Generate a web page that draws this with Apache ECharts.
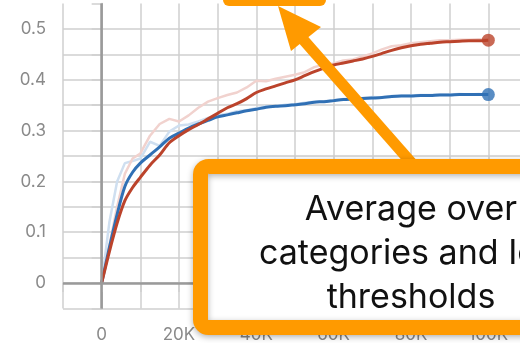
<!DOCTYPE html>
<html>
<head>
<meta charset="utf-8">
<script src="https://cdn.jsdelivr.net/npm/echarts@6/dist/echarts.min.js"></script>
<style>
  html, body { margin: 0; padding: 0; background: #fff; }
  #chart { width: 520px; height: 343px; }
</style>
</head>
<body>
<div id="chart"></div>
<script>
// Training steps shared by every curve
const steps = [0, 2000, 4000, 6000, 8000, 10000, 12500, 15000, 17500, 20000,
  22500, 25000, 27500, 30000, 32500, 35000, 37500, 40000, 42500, 45000,
  47500, 50000, 52500, 55000, 57500, 60000, 62500, 65000, 67500, 70000,
  72500, 75000, 77500, 80000, 82500, 85000, 87500, 90000, 92500, 95000,
  97500, 100000];

// Smoothed curves
const blueSmooth = [0, 0.07, 0.135, 0.19, 0.218, 0.236, 0.252, 0.268, 0.285, 0.295,
  0.305, 0.313, 0.32, 0.327, 0.331, 0.335, 0.339, 0.342, 0.346, 0.348,
  0.349, 0.351, 0.353, 0.356, 0.357, 0.359, 0.361, 0.362, 0.363, 0.364,
  0.365, 0.367, 0.368, 0.368, 0.369, 0.369, 0.37, 0.37, 0.371, 0.371,
  0.371, 0.371];
const redSmooth = [0, 0.062, 0.118, 0.162, 0.188, 0.208, 0.232, 0.252, 0.276, 0.29,
  0.302, 0.312, 0.323, 0.334, 0.345, 0.353, 0.363, 0.375, 0.382, 0.388,
  0.394, 0.4, 0.408, 0.416, 0.423, 0.429, 0.433, 0.437, 0.441, 0.446,
  0.452, 0.458, 0.463, 0.467, 0.47, 0.472, 0.474, 0.475, 0.476, 0.477,
  0.477, 0.478];

// Raw (unsmoothed) curves drawn faintly underneath
const blueRaw = [0, 0.12, 0.2, 0.236, 0.24, 0.245, 0.278, 0.27, 0.298, 0.31,
  0.312, 0.318, 0.325, 0.33, 0.333, 0.338, 0.34, 0.344, 0.348, 0.348,
  0.351, 0.352, 0.355, 0.357, 0.358, 0.36, 0.362, 0.362, 0.364, 0.366,
  0.365, 0.368, 0.369, 0.369, 0.37, 0.37, 0.371, 0.371, 0.372, 0.371,
  0.372, 0.371];
const redRaw = [0, 0.075, 0.15, 0.215, 0.245, 0.255, 0.29, 0.313, 0.323, 0.318,
  0.33, 0.345, 0.357, 0.364, 0.37, 0.375, 0.385, 0.398, 0.397, 0.402,
  0.406, 0.41, 0.415, 0.425, 0.43, 0.432, 0.438, 0.44, 0.446, 0.452,
  0.46, 0.466, 0.468, 0.472, 0.474, 0.476, 0.478, 0.478, 0.479, 0.479,
  0.48, 0.479];

// Axis tick labels
const xLabelValues = [0, 20000, 40000, 60000, 80000, 100000];
const xLabelTexts = ['0', '20K', '40K', '60K', '80K', '100K'];
const yLabelValues = [0, 0.1, 0.2, 0.3, 0.4, 0.5];
const yLabelTexts = ['0', '0.1', '0.2', '0.3', '0.4', '0.5'];

const pairs = (ys) => steps.map((s, i) => [s, ys[i]]);
const last = steps.length - 1;

const BLUE = '#3070b5', RED = '#bb432b';
const ORANGE = '#ff9a00';
const GRID = '#cfcfcf';
const FONT = 'Inter';

const chart = echarts.init(document.getElementById('chart'), null, { renderer: 'canvas' });

chart.setOption({
  animation: false,
  backgroundColor: '#fff',
  grid: { left: 63, right: -7, top: 3.6, bottom: 34.6, containLabel: false, outerBoundsMode: 'none' },
  xAxis: {
    type: 'value', min: -10000, max: 110000, interval: 10000,
    axisLine: { show: false },
    axisTick: { show: true, length: 9, lineStyle: { color: GRID, width: 1.5 } },
    splitLine: { show: true, lineStyle: { color: GRID, width: 1.5 } },
    axisLabel: {
      color: '#8a8a8a', fontFamily: FONT, fontSize: 17, margin: 18,
      formatter: (v) => {
        const i = xLabelValues.indexOf(Math.round(v));
        return i >= 0 ? xLabelTexts[i] : '';
      }
    }
  },
  yAxis: {
    type: 'value', min: -0.05, max: 0.55, interval: 0.05,
    axisLine: { show: true, lineStyle: { color: '#a8a8a8', width: 1.5 } },
    axisTick: { show: true, length: 10, lineStyle: { color: GRID, width: 1.5 } },
    splitLine: { show: true, showMaxLine: false, lineStyle: { color: GRID, width: 1.5 } },
    axisLabel: {
      color: '#8a8a8a', fontFamily: FONT, fontSize: 17, margin: 17,
      formatter: (v) => {
        const i = yLabelValues.findIndex((t) => Math.abs(t - v) < 1e-6);
        return i >= 0 ? yLabelTexts[i] : '';
      }
    }
  },
  series: [
    {
      type: 'line', data: pairs(blueRaw), symbol: 'none', z: 2,
      lineStyle: { color: '#cfdff0', width: 2.5 },
      markLine: {
        silent: true, symbol: 'none', label: { show: false },
        lineStyle: { color: '#9a9a9a', width: 2.5, type: 'solid' },
        data: [{ yAxis: 0 }, { xAxis: 0 }]
      }
    },
    {
      type: 'line', data: pairs(redRaw), symbol: 'none', z: 2,
      lineStyle: { color: '#f1d2ce', width: 2.5 }
    },
    {
      type: 'line', data: pairs(blueSmooth), symbol: 'none', smooth: 0.3, z: 3,
      lineStyle: { color: BLUE, width: 3 }
    },
    {
      type: 'line', data: pairs(redSmooth), symbol: 'none', smooth: 0.3, z: 3,
      lineStyle: { color: RED, width: 3 }
    },
    {
      type: 'scatter', z: 4, symbolSize: 13,
      data: [
        { value: [steps[last], blueSmooth[last]], itemStyle: { color: BLUE } },
        { value: [steps[last], redSmooth[last]], itemStyle: { color: RED } }
      ]
    }
  ],
  graphic: [
    // caption box at the top edge
    {
      type: 'rect', z: 100,
      shape: { x: 223, y: -20, width: 103, height: 26, r: 6 },
      style: { fill: ORANGE }
    },
    // arrow shaft
    {
      type: 'line', z: 100,
      shape: { x1: 300, y1: 36, x2: 416, y2: 168 },
      style: { stroke: ORANGE, lineWidth: 11 }
    },
    // arrow head
    {
      type: 'polygon', z: 100,
      shape: { points: [[278, 6], [321, 27], [291, 51]] },
      style: { fill: ORANGE }
    },
    // annotation box
    {
      type: 'rect', z: 101,
      shape: { x: 200.5, y: 166.5, width: 420, height: 161, r: 8 },
      style: {
        fill: '#fff', stroke: ORANGE, lineWidth: 15,
        shadowBlur: 6, shadowColor: 'rgba(0,0,0,0.3)', shadowOffsetY: 2
      }
    },
    {
      type: 'text', z: 102,
      x: 411, y: 254,
      style: {
        text: 'Average over\ncategories and IoU\nthresholds',
        fill: '#111', font: '34px Inter',
        align: 'center', verticalAlign: 'middle', lineHeight: 44
      }
    }
  ]
});
</script>
</body>
</html>
